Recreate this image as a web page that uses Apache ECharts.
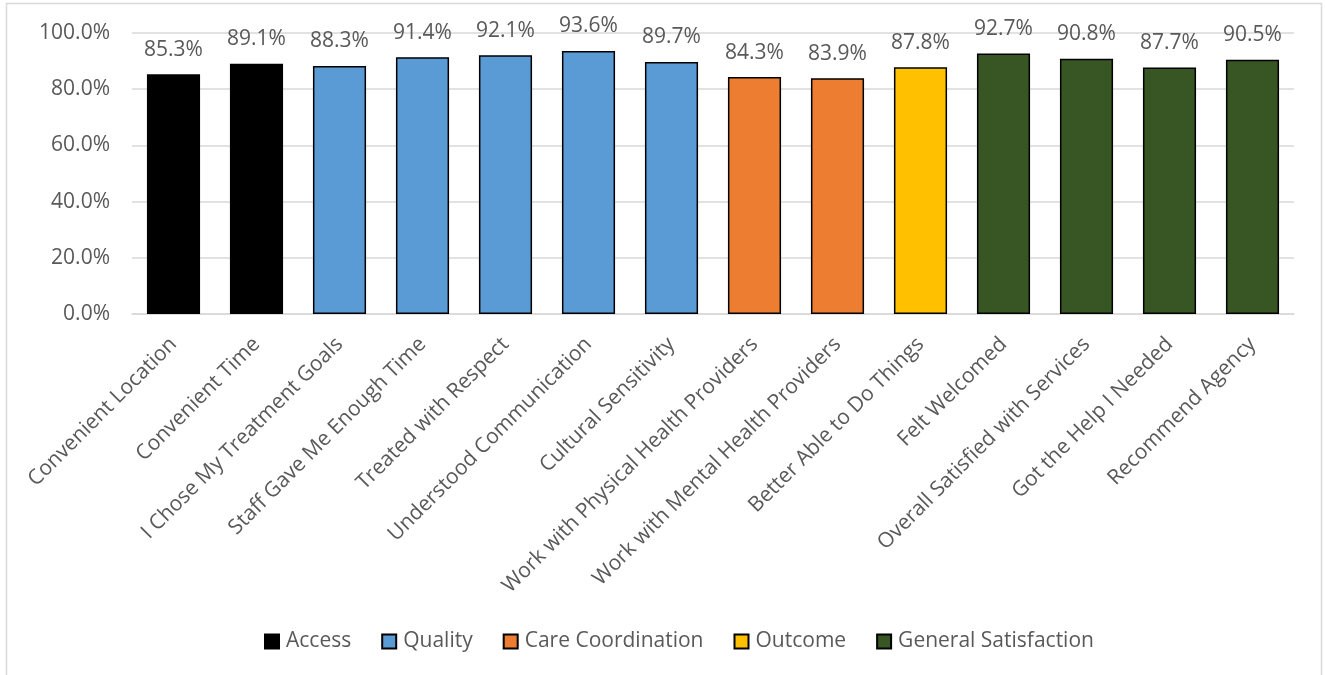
<!DOCTYPE html>
<html>
<head>
<meta charset="utf-8">
<script src="https://cdn.jsdelivr.net/npm/echarts@6/dist/echarts.min.js"></script>
<style>
  html, body { margin: 0; padding: 0; background: #fff; }
  #chart { width: 1325px; height: 675px; }
</style>
</head>
<body>
<div id="chart"></div>
<script>
// Survey items, in display order
const categories = [
  'Convenient Location',
  'Convenient Time',
  'I Chose My Treatment Goals',
  'Staff Gave Me Enough Time',
  'Treated with Respect',
  'Understood Communication',
  'Cultural Sensitivity',
  'Work with Physical Health Providers',
  'Work with Mental Health Providers',
  'Better Able to Do Things',
  'Felt Welcomed',
  'Overall Satisfied with Services',
  'Got the Help I Needed',
  'Recommend Agency'
];

// Percent of positive responses for each item
const values = [85.3, 89.1, 88.3, 91.4, 92.1, 93.6, 89.7, 84.3, 83.9, 87.8, 92.7, 90.8, 87.7, 90.5];

// Domain that each item belongs to
const itemDomains = [
  'Access', 'Access',
  'Quality', 'Quality', 'Quality', 'Quality', 'Quality',
  'Care Coordination', 'Care Coordination',
  'Outcome',
  'General Satisfaction', 'General Satisfaction', 'General Satisfaction', 'General Satisfaction'
];

const domains = ['Access', 'Quality', 'Care Coordination', 'Outcome', 'General Satisfaction'];
const domainColors = ['#000000', '#5B9BD5', '#ED7D31', '#FFC000', '#375623'];

const yTicks = [0, 20, 40, 60, 80, 100];

const FONT = '"Open Sans", "Noto Sans", sans-serif';
const TEXT = '#595959';
const FS = 21;

// One series per domain, stacked so every bar sits centred on its category
const series = domains.map((d, k) => ({
  name: d,
  type: 'bar',
  stack: 'items',
  barCategoryGap: '36%',
  data: values.map((v, i) => itemDomains[i] === d ? v : '-'),
  itemStyle: {
    color: domainColors[k],
    borderColor: '#000000',
    borderWidth: 1.5
  },
  label: {
    show: true,
    position: 'top',
    distance: 14,
    color: TEXT,
    fontFamily: FONT,
    fontSize: FS,
    formatter: p => p.value.toFixed(1) + '%'
  }
}));

const chart = echarts.init(document.getElementById('chart'), null, { renderer: 'canvas' });

chart.setOption({
  animation: false,
  backgroundColor: '#ffffff',
  textStyle: { fontFamily: FONT },
  graphic: [{
    type: 'rect',
    silent: true,
    shape: { x: 6.5, y: 3.5, width: 1315, height: 720 },
    style: { fill: 'none', stroke: '#d9d9d9', lineWidth: 1.5 }
  }],
  grid: {
    left: 132,
    right: 31,
    top: 33,
    bottom: 361,
    containLabel: false
  },
  legend: {
    bottom: 18,
    left: 259,
    itemWidth: 14,
    itemHeight: 14,
    itemGap: 30,
    icon: 'rect',
    data: domains,
    textStyle: { color: TEXT, fontFamily: FONT, fontSize: FS, padding: [0, 0, 0, 2] }
  },
  xAxis: {
    type: 'category',
    data: categories,
    axisTick: { show: false },
    axisLine: { show: true, lineStyle: { color: '#d9d9d9', width: 1.5 } },
    axisLabel: {
      interval: 0,
      rotate: 45,
      margin: 27,
      color: TEXT,
      fontFamily: FONT,
      fontSize: FS
    }
  },
  yAxis: {
    type: 'value',
    min: yTicks[0],
    max: yTicks[yTicks.length - 1],
    interval: yTicks[1] - yTicks[0],
    axisLine: { show: false },
    axisTick: { show: false },
    splitLine: { lineStyle: { color: '#d9d9d9', width: 1.5 } },
    axisLabel: {
      margin: 22,
      color: TEXT,
      fontFamily: FONT,
      fontSize: FS,
      formatter: v => v.toFixed(1) + '%'
    }
  },
  series: series
});
</script>
</body>
</html>
